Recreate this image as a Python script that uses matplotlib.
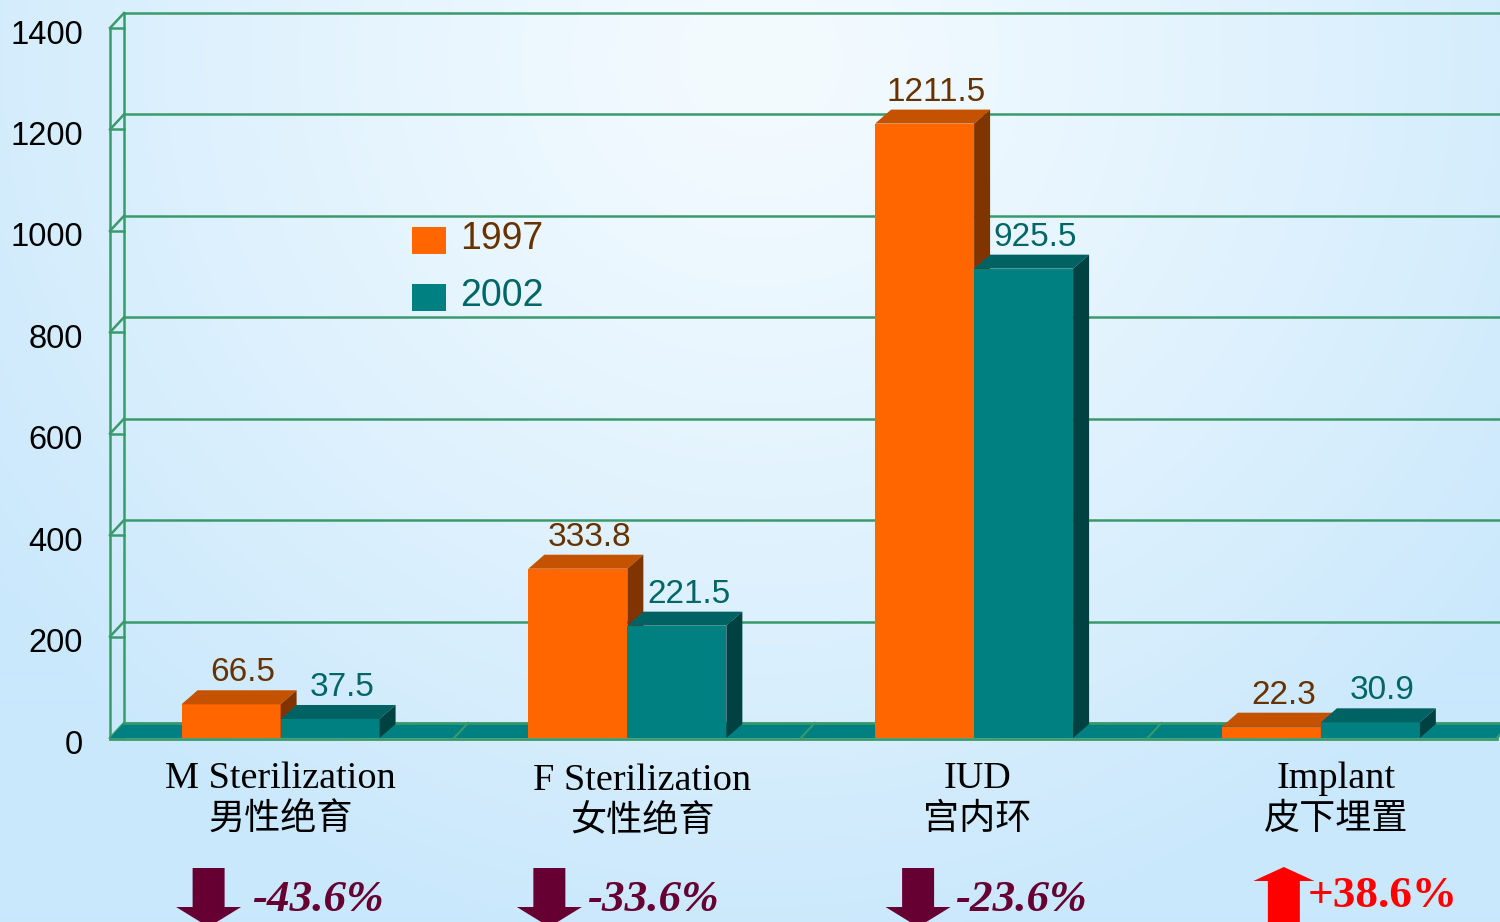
import numpy as np
import matplotlib
matplotlib.use('Agg')
import matplotlib.pyplot as plt
from matplotlib.patches import Polygon
from matplotlib.lines import Line2D
import matplotlib.transforms as mtransforms

# ---------------- data ----------------
categories_en = ['M Sterilization', 'F Sterilization', 'IUD', 'Implant']
categories_zh = ['男性绝育', '女性绝育', '宫内环', '皮下埋置']
series_names = ['1997', '2002']
values_1997 = [66.5, 333.8, 1211.5, 22.3]
values_2002 = [37.5, 221.5, 925.5, 30.9]
y_ticks = [0, 200, 400, 600, 800, 1000, 1200, 1400]

# ---------------- style ----------------
W, H = 1500, 922
GREEN = '#3a9a6c'
front_colors = ['#FF6600', '#008080']
top_colors = ['#C45200', '#006262']
side_colors = ['#823400', '#004242']
label_colors = ['#663300', '#006666']
SANS = 'Liberation Sans'
SERIF = 'Liberation Serif'
CJK = ['Noto Sans CJK SC', 'DejaVu Sans']

fig = plt.figure(figsize=(W / 100, H / 100), dpi=100)

# background gradient
bg = fig.add_axes([0, 0, 1, 1], zorder=-10)
yy, xx = np.mgrid[0:H, 0:W]
r = np.sqrt(((xx - 760) / 950) ** 2 + ((yy - 60) / 900) ** 2)
r = np.clip(r, 0, 1) ** 1.2
c0 = np.array([244, 251, 255]) / 255
c1 = np.array([202, 232, 252]) / 255
img = c0[None, None, :] * (1 - r[..., None]) + c1[None, None, :] * r[..., None]
bg.imshow(img, aspect='auto', interpolation='bilinear')
bg.axis('off')

ax = fig.add_axes([110 / W, (H - 738) / H, 1387 / W, 710 / H])
ax.set_xlim(-0.492, 3.508)
ax.set_ylim(0, 1400)
ax.axis('off')

IDT = mtransforms.IdentityTransform()


def disp(x, y):
    return ax.transData.transform((x, y))


BDX, BDY = 16, 14   # bar depth offset (px)
WDX, WDY = 14, 15   # wall depth offset (px)

xl0, xl1 = ax.get_xlim()
fx0 = disp(xl0, 0)[0]
fx1 = disp(xl1, 0)[0]

# back-wall gridlines, left wall ticks
for t in y_ticks:
    fy = disp(xl0, t)[1]
    ax.add_line(Line2D([fx0 + WDX, W + 20], [fy + WDY, fy + WDY], transform=IDT,
                       color=GREEN, lw=1.8, zorder=1, clip_on=False))
    ax.add_line(Line2D([fx0, fx0 + WDX], [fy, fy + WDY], transform=IDT,
                       color=GREEN, lw=1.8, zorder=1, clip_on=False))
    ax.add_line(Line2D([fx0, fx0 + WDX], [fy, fy], transform=IDT,
                       color=GREEN, lw=1.8, zorder=1, clip_on=False))
    ax.annotate(str(t), xy=(0, t), xycoords=('axes fraction', 'data'),
                xytext=(-27, -7), textcoords='offset pixels',
                ha='right', va='center', fontsize=23.5, family=SANS, color='black',
                annotation_clip=False)

fy0 = disp(xl0, 0)[1]
fytop = disp(xl0, 1400)[1]
ax.add_line(Line2D([fx0, fx0], [fy0, fytop], transform=IDT, color=GREEN, lw=1.8,
                   zorder=1, clip_on=False))
ax.add_line(Line2D([fx0 + WDX, fx0 + WDX], [fy0 + WDY, fytop + WDY], transform=IDT,
                   color=GREEN, lw=1.8, zorder=1, clip_on=False))

# floor
floor = Polygon([(fx0, fy0), (fx1, fy0), (fx1 + WDX, fy0 + WDY), (fx0 + WDX, fy0 + WDY)],
                transform=IDT, closed=True, facecolor='#008080', edgecolor='none',
                zorder=2, clip_on=False)
ax.add_patch(floor)
ax.add_line(Line2D([fx0 + WDX, W + 20], [fy0 + WDY, fy0 + WDY], transform=IDT,
                   color=GREEN, lw=1.8, zorder=2.1, clip_on=False))
for b in [0.5, 1.5, 2.5]:
    bx = disp(b, 0)[0]
    ax.add_line(Line2D([bx, bx + WDX], [fy0, fy0 + WDY], transform=IDT,
                       color=GREEN, lw=1.5, zorder=2.1, clip_on=False))
ax.add_line(Line2D([fx1, fx1 + WDX], [fy0, fy0 + WDY], transform=IDT,
                   color=GREEN, lw=1.8, zorder=2.1, clip_on=False))

# bars
bw = 0.2855
x = np.arange(len(categories_en))
for s, vals in enumerate([values_1997, values_2002]):
    offs = (s - 0.5) * bw
    bars = ax.bar(x + offs, vals, width=bw, color=front_colors[s], linewidth=0,
                  zorder=5 + s)
    for b, v in zip(bars, vals):
        x0, y0 = disp(b.get_x(), 0)
        x1, y1 = disp(b.get_x() + b.get_width(), v)
        ax.add_patch(Polygon([(x0, y1), (x1, y1), (x1 + BDX, y1 + BDY), (x0 + BDX, y1 + BDY)],
                             transform=IDT, facecolor=top_colors[s], edgecolor='none',
                             zorder=5 + s, clip_on=False))
        ax.add_patch(Polygon([(x1, y0), (x1, y1), (x1 + BDX, y1 + BDY), (x1 + BDX, y0 + BDY)],
                             transform=IDT, facecolor=side_colors[s], edgecolor='none',
                             zorder=5 + s, clip_on=False))
        ax.annotate(f'{v}', xy=(b.get_x() + b.get_width() / 2, v),
                    xytext=(12, 23), textcoords='offset pixels',
                    ha='center', va='baseline', fontsize=24, family=SANS,
                    color=label_colors[s], zorder=10, annotation_clip=False)

# front floor edge
ax.add_line(Line2D([fx0, fx1], [fy0 - 1, fy0 - 1], transform=IDT,
                   color=GREEN, lw=2.0, zorder=8, clip_on=False))

# legend
leg_x, leg_y = 412, [227, 284]
for s, name in enumerate(series_names):
    ax.add_patch(Polygon([(leg_x, H - leg_y[s]), (leg_x + 34, H - leg_y[s]),
                          (leg_x + 34, H - leg_y[s] - 27), (leg_x, H - leg_y[s] - 27)],
                         transform=IDT, facecolor=front_colors[s], edgecolor='none',
                         zorder=9, clip_on=False))
    ax.text(leg_x + 48, H - leg_y[s] - 12, name, transform=IDT, ha='left', va='center',
            fontsize=27, family=SANS, color=label_colors[s], zorder=9)

# category labels
label_nudge = [(0, 0), (15, -2), (3, 0), (15, 0)]
for i, (en, zh) in enumerate(zip(categories_en, categories_zh)):
    nx, ny = label_nudge[i]
    ax.annotate(en, xy=(i, H - 788), xycoords=('data', 'figure pixels'),
                xytext=(nx, ny), textcoords='offset pixels', ha='center', va='baseline',
                fontsize=27.5, family=SERIF, color='black', annotation_clip=False)
    ax.annotate(zh, xy=(i, H - 829), xycoords=('data', 'figure pixels'),
                xytext=(nx, ny), textcoords='offset pixels', ha='center', va='baseline',
                fontsize=26, family=CJK, color='black', annotation_clip=False)

# change arrows
arrow_dx = [-72, -78, -56, -37]
text_dx = [-29, -40, -19, -13]
for i, (a, b) in enumerate(zip(values_1997, values_2002)):
    pct = (b - a) / a * 100
    cx = disp(i, 0)[0]
    ax_ = cx + arrow_dx[i]
    if pct < 0:
        col = '#660033'
        pts = [(ax_ - 16, 868), (ax_ + 16, 868), (ax_ + 16, 907), (ax_ + 32.5, 907),
               (ax_, 927), (ax_ - 32.5, 907), (ax_ - 16, 907)]
        base = 911
        style = 'italic'
    else:
        col = '#FF0000'
        pts = [(ax_, 867), (ax_ + 30.5, 881), (ax_ + 16, 881), (ax_ + 16, 935),
               (ax_ - 16, 935), (ax_ - 16, 881), (ax_ - 30.5, 881)]
        base = 907
        style = 'normal'
    ax.add_patch(Polygon([(px, H - py) for px, py in pts], transform=IDT,
                         facecolor=col, edgecolor='none', zorder=9, clip_on=False))
    ax.text(cx + text_dx[i], H - base, f'{pct:+.1f}%', transform=IDT, ha='left',
            va='baseline', fontsize=32.5, family=SERIF, weight='bold', style=style,
            color=col, zorder=9)

fig.savefig('out.png', dpi=100)
